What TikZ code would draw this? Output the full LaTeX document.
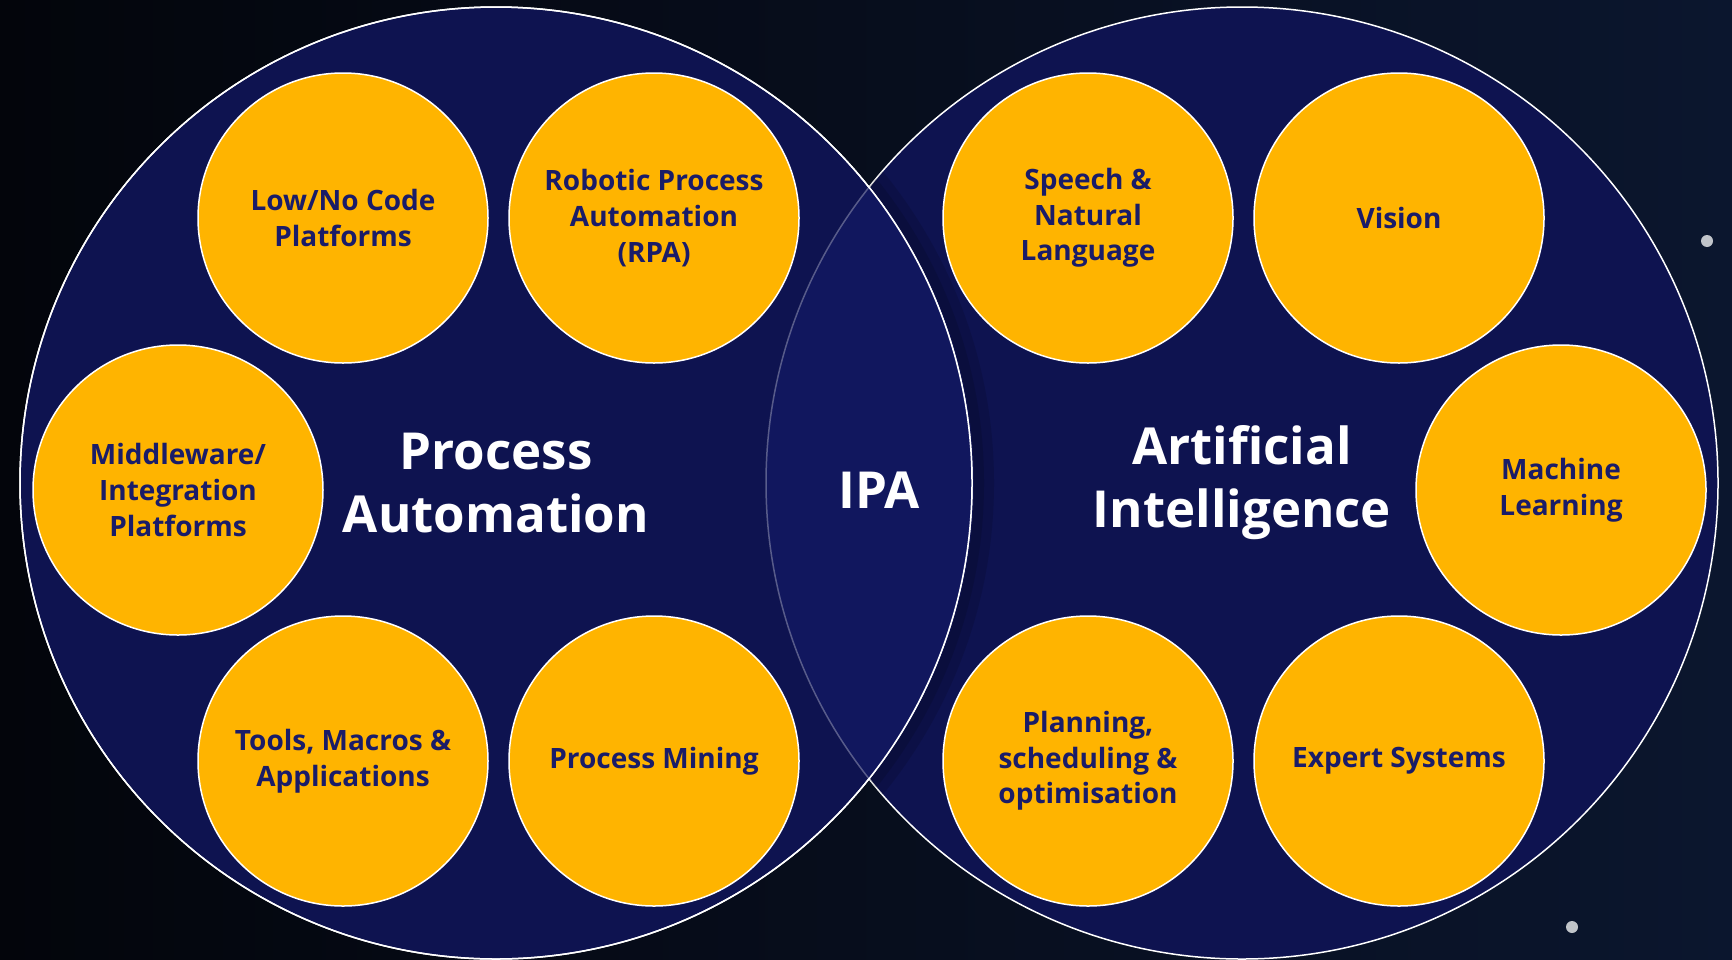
\documentclass[tikz,border=0pt]{standalone}
\usepackage{fontspec}
\setmainfont{Open Sans}
\usepackage{tikz}
\usetikzlibrary{shapes,calc,positioning}
\usepackage{xcolor}
\definecolor{navy}{RGB}{14,19,80}
\definecolor{lensnavy}{RGB}{17,23,94}
\definecolor{amber}{RGB}{255,180,0}
\definecolor{inknavy}{RGB}{26,28,104}
\definecolor{bgleft}{RGB}{3,5,11}
\definecolor{bgright}{RGB}{11,22,46}

\begin{document}
\begin{tikzpicture}[x=0.5pt,y=-0.5pt,
	  every node/.style={align=center,inner sep=0pt},
	  field/.style={circle,fill=navy,draw=white,line width=.75pt,minimum size=476pt,text=white,font=\fontsize{25.5}{31.5}\selectfont\bfseries},
	  overlap/.style={text=white,font=\fontsize{25.5}{31.5}\selectfont\bfseries},
	  technique/.style={circle,fill=amber,draw=white,line width=.75pt,minimum size=145pt,text=inknavy,font=\fontsize{14}{17.8}\selectfont\bfseries},
	  star/.style={fill=white,opacity=.75},
	  faintstar/.style={fill=white,opacity=.12}]

	  % Background
	  \useasboundingbox (0,0) rectangle (1732,959);
	  \shade[left color=bgleft,right color=bgright] (0,0) rectangle (1732,959);
	  \fill[faintstar] (1217,20) circle (7);
	  \fill[star] (1707,241) circle (6);
	  \fill[faintstar] (1647,296) circle (7);
	  \fill[faintstar] (1593,680) circle (7);
	  \fill[faintstar] (1561,702) circle (7);
	  \fill[star] (1572,927) circle (6);

	  % The two fields and their overlap
	  \node[field] (ai) at (1242,483) {Artificial\\Intelligence};
	  \begin{scope}
	    \clip (ai.center) circle (476);
	    \draw[black,opacity=.12,line width=10pt] (502,483) circle (482);
	    \draw[black,opacity=.12,line width=5pt] (500,483) circle (479);
	  \end{scope}
	  \node[field] (pa) at (496,483) {Process\\Automation};
	  \begin{scope}
	    \clip (pa.center) circle (476);
	    \fill[lensnavy] (ai.center) circle (476);
	    \draw[white,opacity=.3,line width=.75pt] (ai.center) circle (476);
	  \end{scope}
	  \draw[white,line width=.75pt] (pa.center) circle (476);
	  \node[overlap] (ipa) at (879,490) {IPA};

	  % Process automation tools
	  \node[technique] (lowcode) at (343,218) {Low/No Code\\Platforms};
	  \node[technique] (rpa) at (654,218) {Robotic Process\\Automation\\(RPA)};
	  \node[technique] (middleware) at (178,490) {Middleware/\\Integration\\Platforms};
	  \node[technique] (tools) at (343,761) {Tools, Macros \&\\Applications};
	  \node[technique] (mining) at (654,761) {Process Mining};

	  % AI techniques
	  \node[technique] (speech) at (1088,218) {Speech \&\\Natural\\Language};
	  \node[technique] (vision) at (1399,218) {Vision};
	  \node[technique] (ml) at (1561,490) {Machine\\Learning};
	  \node[technique] (planning) at (1088,761) {Planning,\\scheduling \&\\optimisation};
	  \node[technique] (expert) at (1399,761) {Expert Systems};
\end{tikzpicture}
\end{document}
